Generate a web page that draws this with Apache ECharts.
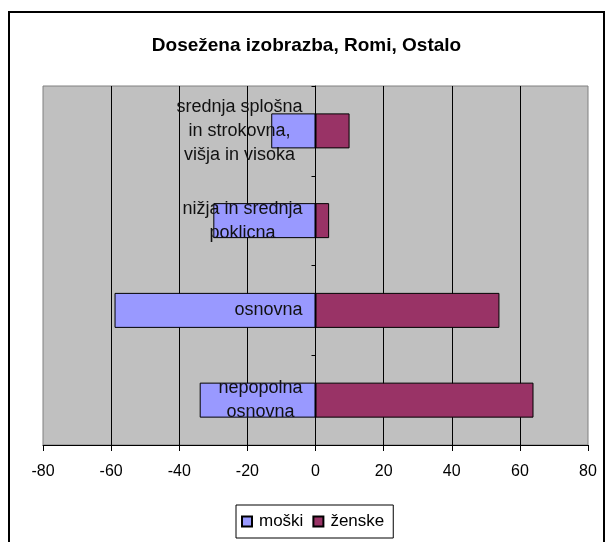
<!DOCTYPE html>
<html>
    <head>
        <meta charset="utf-8">
        <title>Dosežena izobrazba, Romi, Ostalo</title>
        <script src="https://cdn.jsdelivr.net/npm/echarts@6/dist/echarts.min.js"></script>
        <style>
            html, body { margin: 0; padding: 0; background: #fff; }
            #chart1 { width: 613px; height: 542px; }
        </style>
    </head>
    <body>
        <div id="chart1"></div>
        <script type="text/javascript">
            // kategorije od spodaj navzgor
            var categories = [
                'nepopolna\nosnovna',
                'osnovna',
                'nižja in srednja\npoklicna',
                'srednja splošna\nin strokovna,\nvišja in visoka'
            ];
            // moški so narisani kot negativne vrednosti
            var moski = [-34, -59, -30, -13];
            var zenske = [64, 54, 4, 10];
            var xTicks = { min: -80, max: 80, interval: 20 };

            var font = 'Arial, "Liberation Sans", sans-serif';
            var gridLeft = 43, gridRight = 25;
            // kategorijska os stoji pri x = 0 (sredina osi -80..80)
            var zeroOffset = -(613 - gridLeft - gridRight) / 2;

            var myChart = echarts.init(document.getElementById('chart1'));
            myChart.setOption({
                animation: false,
                title: {
                    text: 'Dosežena izobrazba, Romi, Ostalo',
                    left: 'center',
                    top: 31,
                    textStyle: { fontFamily: font, fontSize: 19, fontWeight: 'bold', color: '#000' }
                },
                graphic: [{
                    type: 'rect',
                    shape: { x: 9, y: 12, width: 595, height: 545 },
                    style: { fill: null, stroke: '#000', lineWidth: 2 },
                    silent: true
                }],
                legend: {
                    data: ['moški', 'ženske'],
                    left: 236,
                    top: 505,
                    padding: [8, 9, 8, 5],
                    itemWidth: 10,
                    itemHeight: 10,
                    itemGap: 9,
                    borderColor: '#000',
                    borderWidth: 1,
                    icon: 'rect',
                    textStyle: { fontFamily: font, fontSize: 17, color: '#000', padding: [0, 0, 0, 2] }
                },
                grid: {
                    left: gridLeft, right: gridRight, top: 86, bottom: 97,
                    outerBoundsMode: 'none',
                    containLabel: false,
                    show: true,
                    backgroundColor: '#C0C0C0',
                    borderColor: '#808080',
                    borderWidth: 1
                },
                xAxis: {
                    type: 'value',
                    min: xTicks.min,
                    max: xTicks.max,
                    interval: xTicks.interval,
                    axisLine: { show: true, onZero: false, lineStyle: { color: '#000', width: 1 } },
                    axisTick: { show: true, length: 6, lineStyle: { color: '#000' } },
                    axisLabel: { fontFamily: font, fontSize: 16, color: '#000', margin: 19 },
                    splitLine: { show: true, showMinLine: false, showMaxLine: false, lineStyle: { color: '#000', width: 1 } }
                },
                yAxis: {
                    type: 'category',
                    data: categories,
                    z: 5,
                    position: 'left',
                    offset: zeroOffset,
                    axisLine: { show: true, onZero: false, lineStyle: { color: '#000', width: 1 } },
                    axisTick: { show: true, length: 4, lineStyle: { color: '#000' } },
                    axisLabel: {
                        margin: 13,
                        align: 'right',
                        formatter: function (v) {
                            return v.split('\n').map(function (l) { return '{c|' + l + '}'; }).join('\n');
                        },
                        rich: {
                            c: { align: 'center', fontFamily: font, fontSize: 18, lineHeight: 24, color: '#111' }
                        }
                    },
                    splitLine: { show: false }
                },
                series: [{
                    name: 'moški',
                    type: 'bar',
                    data: moski,
                    barWidth: 35,
                    barGap: '-100%',
                    itemStyle: { color: '#9999FF', borderColor: '#000', borderWidth: 1 }
                }, {
                    name: 'ženske',
                    type: 'bar',
                    data: zenske,
                    barWidth: 35,
                    itemStyle: { color: '#993366', borderColor: '#000', borderWidth: 1 }
                }]
            });
        </script>
    </body>
</html>
